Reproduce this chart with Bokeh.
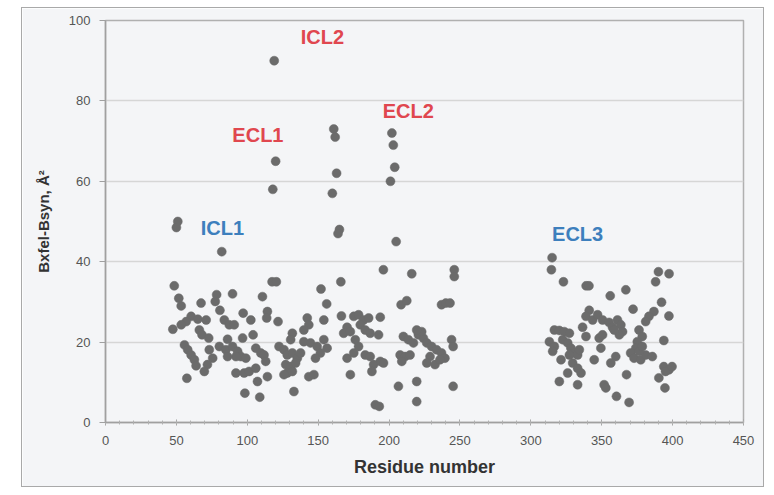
from bokeh.plotting import figure
from bokeh.models import ColumnDataSource, FixedTicker, Spacer
from bokeh.layouts import row, column
from bokeh.core.properties import value
from bokeh.embed import file_html
from bokeh.resources import INLINE

# Residue number (x) and Bxfel-Bsyn difference, A^2 (y)
residue = [
    119, 120, 118, 161, 162, 163, 160, 165, 164, 166, 202, 203, 204, 201, 205, 196, 216,
    51, 50, 82, 48.5, 117.5, 120.5,
    315, 314.5, 323, 339, 341, 367, 356, 390, 397.5, 388, 246, 246, 237, 240, 243,
    208.5, 212.5, 152, 156,
    51.7, 53.4, 67.4, 78.4, 77.4, 89.6, 80.7, 97.1, 102.5, 110.7, 60.4, 65.1, 71, 56.9,
    53.4, 47.5, 83.8, 87.3, 90.8, 66.2, 68.1, 72.8, 104.1, 96.7, 86.1, 55.7, 58, 60.4,
    62.7, 63.9, 73.2, 75.6, 71.9, 69.7, 80.3, 84.9, 89.6, 93.2, 95.5, 99, 92, 86.1, 106,
    109.5, 92, 97.8, 101.3, 106, 107.2, 57.4, 98.3, 108.8,
    114.2, 113.7, 121.7, 142.3, 143.4, 139.9, 154, 166.4, 170.4, 168, 131.8, 130.6, 139.9,
    144.6, 149.3, 154, 156.3, 151.6, 148.1, 111.8, 113, 114.2, 122.4, 125.9, 128.2, 131.8,
    135.3, 137.6, 127.1, 130.6, 134.1, 128.2, 131.8, 125.9, 143.4, 147, 132.9, 172.7,
    170.4, 175.1, 172.7, 175.1,
    178.5, 182, 185.6, 179.7, 183.2, 186.7, 193.8, 192.6, 176.2, 178.5, 183.2, 186.7,
    189.1, 187.9, 193.8, 196.1, 210.1, 213.6, 217.2, 220.7, 224.2, 226.6, 223, 219.5,
    207.8, 211.3, 214.8, 209, 230, 233.5, 237, 239.4, 228.9, 226.6, 232.4, 235.9, 244.1,
    245.2, 206.6, 219.5, 219.5, 190.3, 193.1, 245.2,
    392.2, 372.1, 386.8, 383.3, 381, 397.4, 341.2, 338.9, 343.6, 347.1, 350.6, 336.5,
    355.2, 357.6, 361.1, 363.5, 364.7, 362.4, 358.8, 316.6, 320.1, 323.6, 327.2, 313.1,
    316.6, 315.4, 322.5, 326, 328.3, 330.7, 333, 327.2, 329.5, 333, 335.4, 334.2, 321.3,
    326, 320.1, 333, 338.9, 348.2, 350.6, 349.4, 344.7, 359.9, 356.4, 351.7, 352.9, 360.4,
    369.3, 367.5, 376.3, 378.6, 375.1, 374, 370.4, 372.8, 377.5, 381, 376.3, 378.6, 385.7,
    393.8, 393.8, 397.4, 395, 390.3, 394.6, 399.6,
]
bdiff = [
    90, 65, 58, 73, 71, 62, 57, 48, 47, 35, 72, 69, 63.5, 60, 45, 38, 37,
    50, 48.5, 42.5, 34, 35, 35,
    41, 38, 35, 34, 34, 33, 31.5, 37.5, 37, 35, 38, 36.3, 29.3, 29.7, 29.7,
    29.3, 30.3, 33.2, 29.5,
    30.9, 29, 29.7, 31.8, 30.1, 32, 27.9, 27.2, 25.5, 31.3, 26.4, 25.7, 25.5, 25.1,
    24.3, 23.2, 25.5, 24.3, 24.3, 23, 21.8, 21, 21.8, 21, 20.7, 19.3, 18.1, 16.8,
    15.6, 14.1, 18.1, 16, 14.4, 12.7, 18.9, 18.1, 18.9, 17.7, 16.4, 16, 16.4, 16.4, 18.5,
    17.3, 12.3, 12.3, 12.7, 13.5, 10.2, 11, 7.3, 6.3,
    27.6, 26, 25.1, 26, 24.3, 23, 25.5, 26.5, 23.7, 22.2, 22.2, 20.6, 20.1,
    19.8, 18.9, 20.6, 18.5, 17.3, 16, 16.8, 15.2, 11.4, 18.9, 18.1, 16.8, 17.3,
    16, 17.3, 14.4, 13.9, 14.8, 12.3, 12.7, 11.9, 11.4, 11.9, 7.7, 11.9,
    16, 17.3, 22.6, 26.4,
    26.8, 25.5, 26, 24.3, 23, 22.2, 26.2, 21.8, 20.6, 18.9, 16.8, 16.4,
    14.4, 12.7, 15.2, 14.8, 21.4, 20.6, 19.8, 21.8, 21, 19.8, 22.6, 23,
    16.8, 16.4, 16.8, 15.2, 18.9, 18.1, 17.3, 16, 16.4, 14.8, 14.4, 15.6, 20.6,
    9, 9, 10.2, 5.2, 4.4, 4, 18.9,
    29.9, 28.2, 27.6, 26.4, 25.1, 26.5, 27.9, 26.4, 25.5, 26.8, 25.5, 23.7,
    24.9, 23.7, 25.5, 24.3, 22.6, 21.8, 23, 23, 22.9, 22.6, 22.2, 20.1,
    18.9, 17.7, 20.6, 19.8, 18.5, 17.3, 16.8, 16.8, 14.8, 13.5, 12.3, 18.1, 15.6,
    12.3, 10.2, 9.4, 21.4, 21, 21.8, 18.5, 15.6, 16.4, 14.8, 9.4, 8.6, 6.5,
    5, 11.9, 23, 21.4, 20.1, 18.5, 17.3, 16, 15.6, 16.8, 17.7, 18.9, 16.4,
    20.4, 13.9, 13.1, 12.7, 11.1, 8.6, 13.9,
]

# Region labels
label_text = ["ICL1", "ECL1", "ICL2", "ECL2", "ECL3"]
label_x = [82.5, 107.5, 153, 213.5, 333]
label_y = [48.4, 71.6, 96, 77.4, 46.9]
label_color = ["#3d7fbd", "#e0474f", "#e0474f", "#e0474f", "#3d7fbd"]

x_ticks = [0, 50, 100, 150, 200, 250, 300, 350, 400, 450]
y_ticks = [0, 20, 40, 60, 80, 100]

BG = "#f4f5f7"

p = figure(width=743, height=480, x_range=(0, 450), y_range=(0, 100),
           output_backend="svg", toolbar_location=None,
           min_border_left=83, min_border_right=22, min_border_top=12, min_border_bottom=66)
p.styles = {"border": "1px solid #a9a9a9"}
p.background_fill_color = BG
p.border_fill_color = BG
p.outline_line_color = "#b0b0b0"
p.outline_line_width = 1.5

src = ColumnDataSource(dict(x=residue, y=bdiff))
p.scatter("x", "y", source=src, size=9, fill_color="#6b6b6b", line_color="#6b6b6b",
          line_width=0.5)

lsrc = ColumnDataSource(dict(x=label_x, y=label_y, t=label_text, c=label_color))
p.text("x", "y", text="t", source=lsrc, text_color="c", text_align="center",
       text_baseline="middle", text_font=value("Liberation Sans"), text_font_style="bold",
       text_font_size="20px")

# grid
p.xgrid.visible = False
p.ygrid.ticker = FixedTicker(ticks=y_ticks)
p.ygrid.grid_line_color = "#d6d6d6"
p.ygrid.grid_line_width = 1.5

# x axis
p.xaxis.ticker = FixedTicker(ticks=x_ticks, minor_ticks=list(range(0, 451, 10)))
p.xaxis.axis_label = "Residue number"
p.xaxis.axis_label_text_font = "Liberation Sans"
p.xaxis.axis_label_text_font_style = "bold"
p.xaxis.axis_label_text_font_size = "18px"
p.xaxis.axis_label_text_color = "#333333"
p.xaxis.axis_label_standoff = 9
p.xaxis.major_label_text_font = "Liberation Sans"
p.xaxis.major_label_text_font_size = "13px"
p.xaxis.major_label_text_color = "#555555"
p.xaxis.major_label_standoff = 10
p.xaxis.major_tick_in = 3
p.xaxis.major_tick_out = 3
p.xaxis.minor_tick_in = 2
p.xaxis.minor_tick_out = 2
p.xaxis.major_tick_line_color = "#a0a0a0"
p.xaxis.minor_tick_line_color = "#b0b0b0"
p.xaxis.axis_line_color = "#a0a0a0"
p.xaxis.axis_line_width = 1.5

# y axis
p.yaxis.ticker = FixedTicker(ticks=y_ticks)
p.yaxis.axis_label = "Bxfel-Bsyn, Å²"
p.yaxis.axis_label_text_font = "Liberation Sans"
p.yaxis.axis_label_text_font_style = "bold"
p.yaxis.axis_label_text_font_size = "15px"
p.yaxis.axis_label_text_color = "#333333"
p.yaxis.axis_label_standoff = 14
p.yaxis.major_label_text_font = "Liberation Sans"
p.yaxis.major_label_text_font_size = "13px"
p.yaxis.major_label_text_color = "#555555"
p.yaxis.major_label_standoff = 9
p.yaxis.major_tick_in = 0
p.yaxis.major_tick_out = 6
p.yaxis.minor_tick_line_color = None
p.yaxis.major_tick_line_color = "#a0a0a0"
p.yaxis.axis_line_color = "#a0a0a0"
p.yaxis.axis_line_width = 1.5

layout = column(Spacer(width=10, height=7), row(Spacer(width=21, height=480), p))
open("out.html", "w").write(file_html(layout, INLINE))
